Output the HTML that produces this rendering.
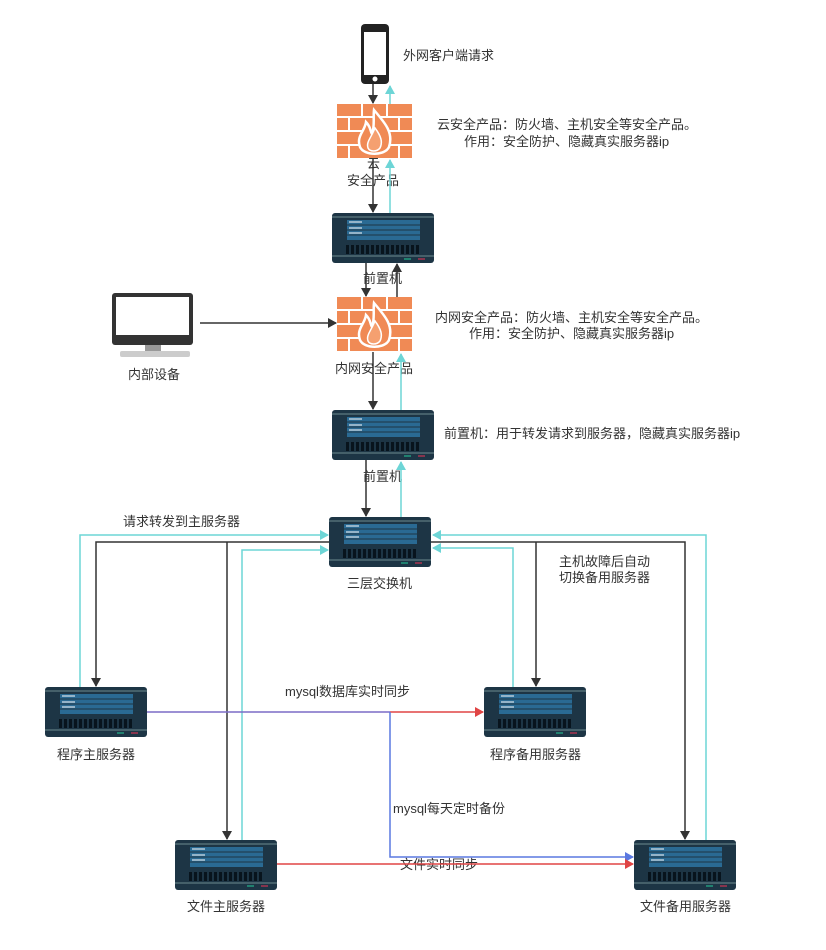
<!DOCTYPE html>
<html><head><meta charset="utf-8"><style>
body{margin:0;background:#fff}
svg text{font-family:"Liberation Sans","Noto Sans CJK SC",sans-serif;font-size:13px;fill:#333}
</style></head><body>
<svg width="826" height="945" viewBox="0 0 826 945" xmlns="http://www.w3.org/2000/svg">
<defs>
<marker id="ab" markerWidth="10" markerHeight="10" refX="8" refY="5" orient="auto" markerUnits="userSpaceOnUse"><path d="M0,0 L9,5 L0,10 z" fill="#333"/></marker>
<marker id="ac" markerWidth="10" markerHeight="10" refX="8" refY="5" orient="auto" markerUnits="userSpaceOnUse"><path d="M0,0 L9,5 L0,10 z" fill="#6dd5d6"/></marker>
<marker id="ar" markerWidth="10" markerHeight="10" refX="8" refY="5" orient="auto" markerUnits="userSpaceOnUse"><path d="M0,0 L9,5 L0,10 z" fill="#e04545"/></marker>
<marker id="au" markerWidth="10" markerHeight="10" refX="8" refY="5" orient="auto" markerUnits="userSpaceOnUse"><path d="M0,0 L9,5 L0,10 z" fill="#5a78e0"/></marker>
<g id="srv">
<rect x="0" y="0" width="102" height="50" rx="3" fill="#1d3545"/>
<line x1="0" y1="4" x2="102" y2="4" stroke="#8aa" stroke-width="0.8"/>
<line x1="0" y1="43" x2="102" y2="43" stroke="#8aa" stroke-width="0.8"/>
<rect x="15" y="7" width="73" height="20" fill="#2a6a93"/>
<line x1="15" y1="12" x2="88" y2="12" stroke="#1d3545"/><line x1="15" y1="17" x2="88" y2="17" stroke="#1d3545"/><line x1="15" y1="22" x2="88" y2="22" stroke="#1d3545"/>
<line x1="17" y1="9" x2="30" y2="9" stroke="#fff"/><line x1="17" y1="15" x2="30" y2="15" stroke="#fff"/><line x1="17" y1="20" x2="30" y2="20" stroke="#fff"/>
<g fill="#08141d"><rect x="14" y="32" width="3" height="9"/><rect x="19" y="32" width="3" height="9"/><rect x="24" y="32" width="3" height="9"/><rect x="29" y="32" width="3" height="9"/><rect x="34" y="32" width="3" height="9"/><rect x="39" y="32" width="3" height="9"/><rect x="44" y="32" width="3" height="9"/><rect x="49" y="32" width="3" height="9"/><rect x="54" y="32" width="3" height="9"/><rect x="59" y="32" width="3" height="9"/><rect x="64" y="32" width="3" height="9"/><rect x="69" y="32" width="3" height="9"/><rect x="74" y="32" width="3" height="9"/><rect x="79" y="32" width="3" height="9"/><rect x="84" y="32" width="3" height="9"/></g>
<line x1="72" y1="46" x2="79" y2="46" stroke="#2c9"/><line x1="86" y1="46" x2="93" y2="46" stroke="#e35"/>
</g>
<g id="fw">
<rect x="0" y="0" width="75" height="54" fill="#f08a55"/>
<g stroke="#fff" stroke-width="2"><line x1="0" y1="13" x2="75" y2="13"/><line x1="0" y1="27" x2="75" y2="27"/><line x1="0" y1="41" x2="75" y2="41"/>
<line x1="25" y1="0" x2="25" y2="13"/><line x1="50" y1="0" x2="50" y2="13"/><line x1="12" y1="13" x2="12" y2="27"/><line x1="62" y1="13" x2="62" y2="27"/><line x1="25" y1="27" x2="25" y2="41"/><line x1="50" y1="27" x2="50" y2="41"/><line x1="12" y1="41" x2="12" y2="54"/><line x1="62" y1="41" x2="62" y2="54"/></g>
<path d="M37,6 C47,18 57,28 52,43 C48,52 27,52 23,43 C19,32 28,27 29,18 C34,23 33,27 35,30 C38,22 36,14 37,6z" fill="#f08a55" stroke="#fff" stroke-width="2.5"/>
<path d="M38,24 C44,32 46,38 43,44 C40,48 33,48 31,44 C29,38 34,34 38,24z" fill="#f5a070" stroke="#fff" stroke-width="1.5"/>
</g>
</defs>

<rect x="361" y="24" width="28" height="60" rx="4" fill="#222"/>
<rect x="364" y="32" width="22" height="43" fill="#fff"/>
<circle cx="375" cy="79" r="2.5" fill="#fff"/>
<text x="403" y="60">外网客户端请求</text>

<use href="#fw" x="337" y="104"/>
<text x="437" y="129">云安全产品：防火墙、主机安全等安全产品。</text>
<text x="464" y="146">作用：安全防护、隐藏真实服务器ip</text>
<text x="367" y="168">云</text>
<text x="347" y="185">安全产品</text>

<use href="#srv" x="332" y="213"/>
<text x="363" y="283">前置机</text>

<use href="#fw" x="337" y="297"/>
<text x="435" y="322">内网安全产品：防火墙、主机安全等安全产品。</text>
<text x="469" y="338">作用：安全防护、隐藏真实服务器ip</text>
<text x="335" y="373">内网安全产品</text>

<rect x="112" y="293" width="81" height="52" rx="3" fill="#333"/>
<rect x="116" y="297" width="73" height="38" fill="#fff"/>
<rect x="145" y="345" width="16" height="6" fill="#999"/>
<rect x="120" y="351" width="70" height="6" rx="2" fill="#ccc"/>
<text x="128" y="379">内部设备</text>

<use href="#srv" x="332" y="410"/>
<text x="444" y="438">前置机：用于转发请求到服务器，隐藏真实服务器ip</text>
<text x="363" y="481">前置机</text>

<use href="#srv" x="329" y="517"/>
<text x="347" y="588">三层交换机</text>
<text x="123" y="526">请求转发到主服务器</text>
<text x="559" y="566">主机故障后自动</text>
<text x="559" y="582">切换备用服务器</text>

<use href="#srv" x="45" y="687"/>
<text x="57" y="759">程序主服务器</text>
<use href="#srv" x="484" y="687"/>
<text x="490" y="759">程序备用服务器</text>
<use href="#srv" x="175" y="840"/>
<text x="187" y="911">文件主服务器</text>
<use href="#srv" x="634" y="840"/>
<text x="640" y="911">文件备用服务器</text>

<text x="285" y="696">mysql数据库实时同步</text>
<text x="393" y="813">mysql每天定时备份</text>
<text x="400" y="869">文件实时同步</text>

<g fill="none" stroke-width="1.5">
<line x1="373" y1="84" x2="373" y2="103" stroke="#333" marker-end="url(#ab)"/>
<line x1="390" y1="104" x2="390" y2="86" stroke="#6dd5d6" marker-end="url(#ac)"/>
<line x1="373" y1="158" x2="373" y2="212" stroke="#333" marker-end="url(#ab)"/>
<line x1="390" y1="213" x2="390" y2="160" stroke="#6dd5d6" marker-end="url(#ac)"/>
<line x1="366" y1="263" x2="366" y2="296" stroke="#333" marker-end="url(#ab)"/>
<line x1="397" y1="297" x2="397" y2="264" stroke="#333" marker-end="url(#ab)"/>
<line x1="200" y1="323" x2="336" y2="323" stroke="#333" marker-end="url(#ab)"/>
<line x1="373" y1="352" x2="373" y2="409" stroke="#333" marker-end="url(#ab)"/>
<line x1="401" y1="410" x2="401" y2="354" stroke="#6dd5d6" marker-end="url(#ac)"/>
<line x1="366" y1="460" x2="366" y2="516" stroke="#333" marker-end="url(#ab)"/>
<line x1="401" y1="517" x2="401" y2="462" stroke="#6dd5d6" marker-end="url(#ac)"/>

<polyline points="80,687 80,535 328,535" stroke="#6dd5d6" marker-end="url(#ac)"/>
<polyline points="329,542 96,542 96,686" stroke="#333" marker-end="url(#ab)"/>
<polyline points="227,542 227,839" stroke="#333" marker-end="url(#ab)"/>
<polyline points="242,840 242,550 328,550" stroke="#6dd5d6" marker-end="url(#ac)"/>
<polyline points="431,542 685,542 685,839" stroke="#333" marker-end="url(#ab)"/>
<polyline points="536,542 536,686" stroke="#333" marker-end="url(#ab)"/>
<polyline points="513,687 513,548 433,548" stroke="#6dd5d6" marker-end="url(#ac)"/>
<polyline points="706,840 706,535 433,535" stroke="#6dd5d6" marker-end="url(#ac)"/>

<line x1="147" y1="712" x2="390" y2="712" stroke="#7b6cc6"/>
<line x1="390" y1="712" x2="483" y2="712" stroke="#e04545" marker-end="url(#ar)"/>
<polyline points="390,712 390,857 633,857" stroke="#5a78e0" marker-end="url(#au)"/>
<line x1="277" y1="864" x2="633" y2="864" stroke="#e04545" marker-end="url(#ar)"/>
</g>
</svg>
</body></html>
